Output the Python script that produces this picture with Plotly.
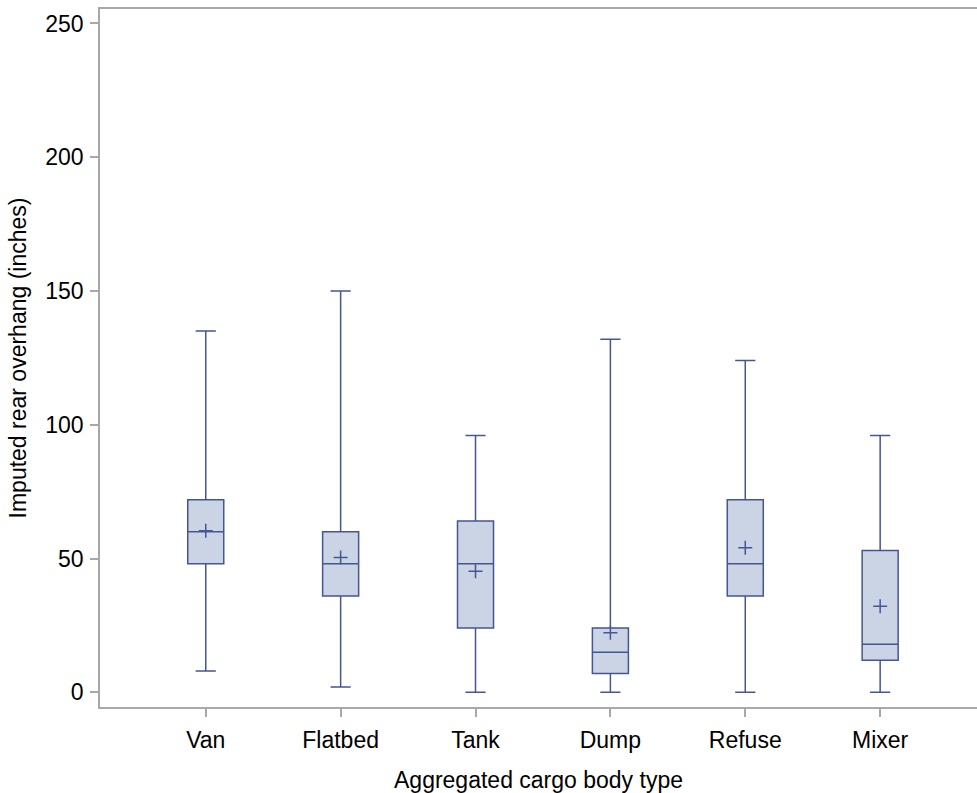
import plotly.graph_objects as go

categories = ["Van", "Flatbed", "Tank", "Dump", "Refuse", "Mixer"]
q1 = [48, 36, 24, 7, 36, 12]
median = [60, 48, 48, 15, 48, 18]
q3 = [72, 60, 64, 24, 72, 53]
lower = [8, 2, 0, 0, 0, 0]
upper = [135, 150, 96, 132, 124, 96]
means = [60.4, 50.4, 45.2, 22.3, 54, 32.2]

LINE = "#445694"
FILL = "#CAD4E5"
AXIS = "#A8A8A8"
FONT = "Liberation Sans, Arial, sans-serif"

fig = go.Figure()
fig.add_trace(go.Box(
    x=categories, q1=q1, median=median, q3=q3,
    lowerfence=lower, upperfence=upper,
    width=0.267, whiskerwidth=0.56,
    fillcolor=FILL, line=dict(color=LINE, width=1.5),
    boxpoints=False, showlegend=False, hoverinfo="skip",
))
fig.add_trace(go.Scatter(
    x=categories, y=means, mode="markers",
    marker=dict(symbol="cross-thin-open", size=10, line=dict(color=LINE, width=1.5), color=LINE),
    showlegend=False, hoverinfo="skip",
))

fig.update_layout(
    width=977, height=793,
    margin=dict(l=100, r=0, t=9, b=86),
    plot_bgcolor="white", paper_bgcolor="white",
    font=dict(family=FONT, color="black"),
    xaxis=dict(
        type="category", range=[-0.784, 5.718],
        showline=True, linecolor=AXIS, linewidth=1.5, mirror=True,
        ticks="outside", ticklen=8, tickcolor=AXIS, tickwidth=1.5,
        ticklabelstandoff=4,
        showgrid=False, zeroline=False,
        tickfont=dict(size=23, family=FONT),
        title=dict(text="Aggregated cargo body type", font=dict(size=23, family=FONT), standoff=20),
    ),
    yaxis=dict(
        range=[-5.5, 255.4],
        tickvals=[0, 50, 100, 150, 200, 250],
        showline=True, linecolor=AXIS, linewidth=1.5,
        ticks="outside", ticklen=8, tickcolor=AXIS, tickwidth=1.5,
        ticklabelstandoff=2,
        showgrid=False, zeroline=False,
        tickfont=dict(size=23, family=FONT),
        title=dict(text="Imputed rear overhang (inches)", font=dict(size=23, family=FONT), standoff=12),
    ),
)

fig.write_html("out.html")
